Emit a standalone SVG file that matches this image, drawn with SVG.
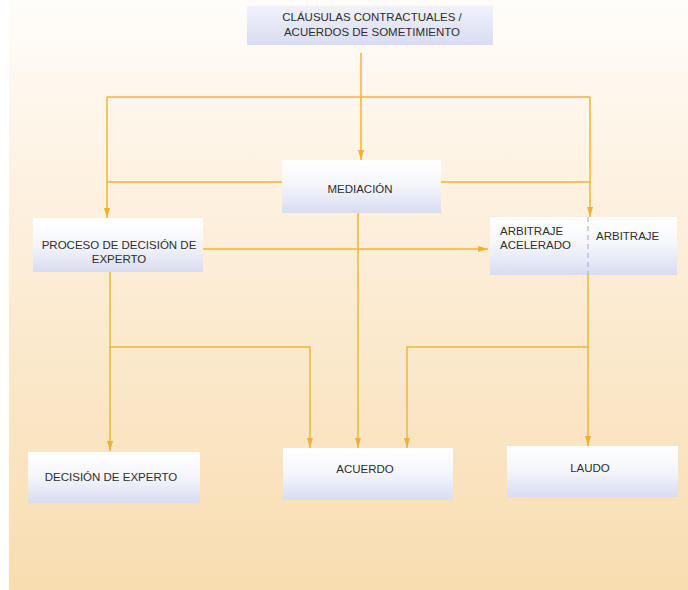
<svg xmlns="http://www.w3.org/2000/svg" width="688" height="590" viewBox="0 0 688 590">
<defs>
<linearGradient id="bg" x1="0" y1="0" x2="0" y2="1">
<stop offset="0" stop-color="#fffdfa"/>
<stop offset="0.35" stop-color="#fdf0de"/>
<stop offset="1" stop-color="#f8ddb0"/>
</linearGradient>
<linearGradient id="box" x1="0" y1="0" x2="0" y2="1">
<stop offset="0" stop-color="#ffffff"/>
<stop offset="0.45" stop-color="#f6f7fc"/>
<stop offset="1" stop-color="#d8dcf1"/>
</linearGradient>
<linearGradient id="topbox" x1="0" y1="0" x2="0" y2="1">
<stop offset="0" stop-color="#f1f2fa"/>
<stop offset="1" stop-color="#d9dcf1"/>
</linearGradient>
<marker id="ah" viewBox="0 0 10 6" refX="10" refY="3" markerWidth="10" markerHeight="6" orient="auto" markerUnits="userSpaceOnUse">
<path d="M0,0 L10,3 L0,6 z" fill="#eeb431"/>
</marker>
</defs>
<style>
.n{fill:url(#box);}
.t{font-family:"Liberation Sans",Arial,sans-serif;font-size:11.5px;fill:#2e2e2e;}
.c{fill:none;stroke:#efb637;stroke-width:1.5;}
.a{marker-end:url(#ah);}
</style>
<rect x="0" y="0" width="688" height="590" fill="#ffffff"/>
<rect x="9" y="0" width="679" height="590" fill="url(#bg)"/>

<g id="connectors">
<path class="c a" d="M361 53 V160"/>
<path class="c" d="M107 97 H590"/>
<path class="c a" d="M107 97 V218"/>
<path class="c a" d="M590 97 V217"/>
<path class="c" d="M282 182 H107"/>
<path class="c" d="M441 182 H590"/>
<path class="c a" d="M203 249 H488"/>
<path class="c a" d="M110 272 V451"/>
<path class="c a" d="M110 347 H310 V448"/>
<path class="c a" d="M358 213 V448"/>
<path class="c a" d="M588 275 V446"/>
<path class="c a" d="M588 347 H407 V448"/>
</g>

<g id="clausulas">
<rect x="247" y="6" width="246" height="39" fill="url(#topbox)"/>
<text class="t" x="372" y="21" text-anchor="middle">CLÁUSULAS CONTRACTUALES /</text>
<text class="t" x="372" y="36" text-anchor="middle">ACUERDOS DE SOMETIMIENTO</text>
</g>

<g id="mediacion">
<rect class="n" x="282" y="160" width="159" height="53"/>
<text class="t" x="360" y="193" text-anchor="middle">MEDIACIÓN</text>
</g>

<g id="proceso">
<rect class="n" x="33" y="218" width="170" height="54"/>
<text class="t" x="119" y="249" text-anchor="middle">PROCESO DE DECISIÓN DE</text>
<text class="t" x="119" y="263" text-anchor="middle">EXPERTO</text>
</g>

<g id="arbitraje">
<rect class="n" x="490" y="217" width="187" height="58"/>
<line x1="588" y1="217" x2="588" y2="275" stroke="#9aa6dd" stroke-width="1" stroke-dasharray="5,4"/>
<text class="t" x="500" y="235">ARBITRAJE</text>
<text class="t" x="500" y="249">ACELERADO</text>
<text class="t" x="596" y="240">ARBITRAJE</text>
</g>

<g id="decision">
<rect class="n" x="28" y="452" width="172" height="51"/>
<text class="t" x="111" y="481" text-anchor="middle">DECISIÓN DE EXPERTO</text>
</g>

<g id="acuerdo">
<rect class="n" x="283" y="448" width="170" height="52"/>
<text class="t" x="365" y="473" text-anchor="middle">ACUERDO</text>
</g>

<g id="laudo">
<rect class="n" x="507" y="446" width="171" height="51"/>
<text class="t" x="590" y="472" text-anchor="middle">LAUDO</text>
</g>
</svg>
